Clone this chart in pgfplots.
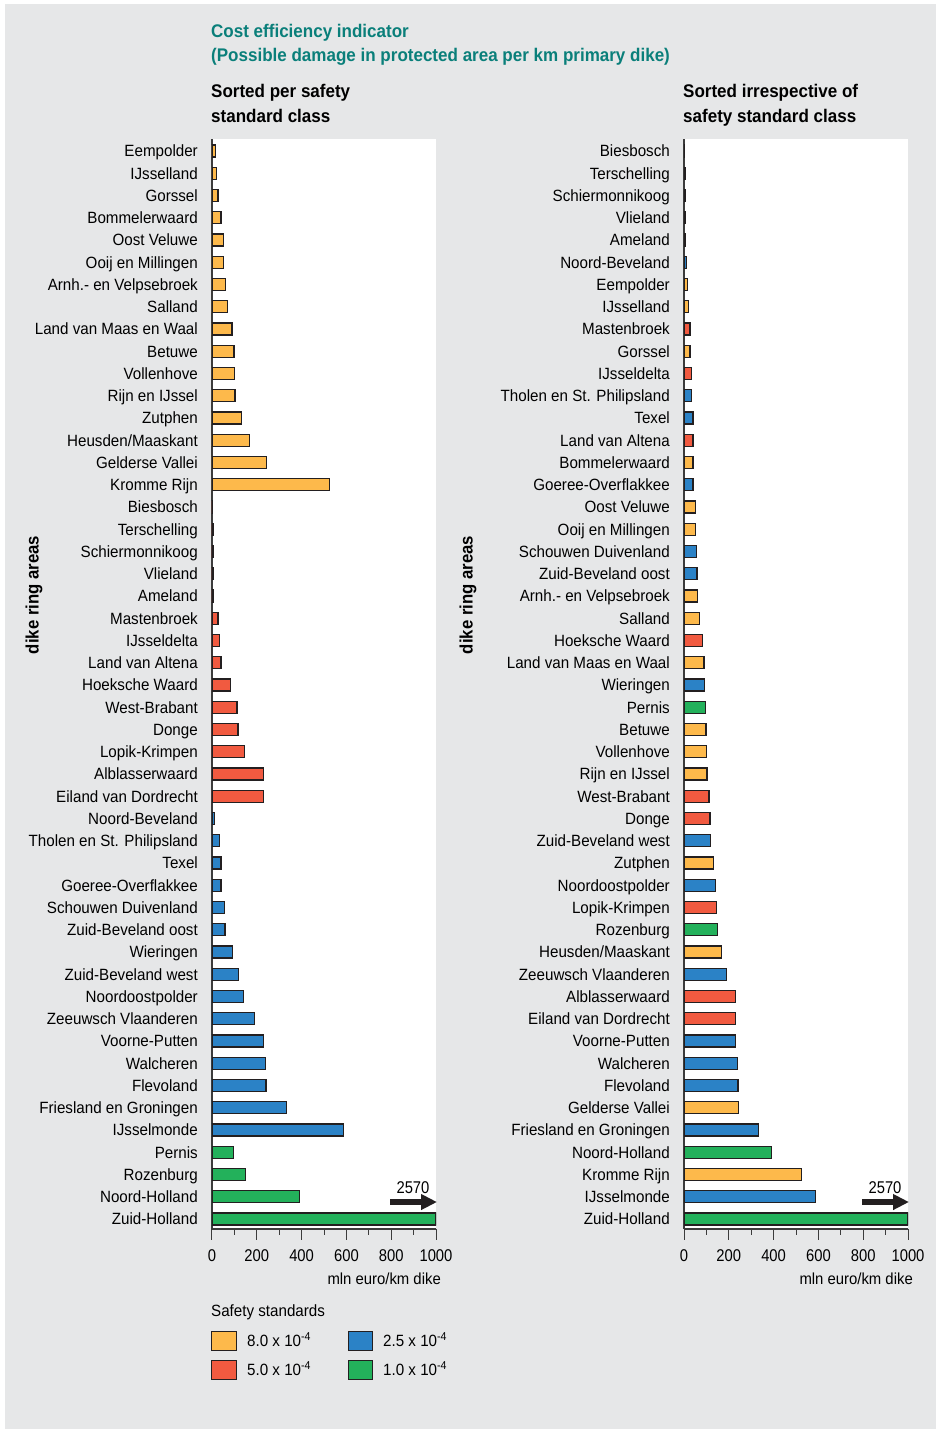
\documentclass[border=0pt]{standalone}
\usepackage{pgfplots}
\pgfplotsset{compat=1.18}
\usetikzlibrary{arrows.meta}
\usepackage{fontspec}
\setmainfont{Liberation Sans}[FakeStretch=0.93]
\newfontfamily\digits{Liberation Sans}[FakeStretch=0.87]

\definecolor{bg}{HTML}{E6E7E8}
\definecolor{cyellow}{HTML}{FDB94B}
\definecolor{cred}{HTML}{F15A40}
\definecolor{cblue}{HTML}{2B82C6}
\definecolor{cgreen}{HTML}{23B15B}
\definecolor{outline}{HTML}{231F20}
\definecolor{axisc}{HTML}{3C3C3C}
\definecolor{teal}{HTML}{0A7F7A}

\pgfplotsset{
  dike/.style={
    scale only axis, width=224pt, height=1090pt,
    xmin=0, xmax=1000, ymin=-0.45, ymax=48.54,
    axis background/.style={fill=white},
    axis x line*=bottom, axis y line*=left,
    axis line style={-, draw=axisc, line width=1.3pt},
    xtick={0,200,...,1000}, minor xtick={100,300,...,900},
    tick align=outside,
    major tick length=11pt, minor tick length=6pt,
    x tick style={draw=axisc, line width=1pt},
    ytick={0,...,48}, y tick style={draw=none},
    yticklabel style={anchor=east, inner sep=0pt, xshift=-3pt,
      text height=11.7pt, text depth=0pt,
      font=\fontsize{16.3}{18}\selectfont},
    /pgf/number format/assume math mode=true,
    /pgf/number format/1000 sep={},
    xticklabel style={anchor=north, inner sep=0pt, yshift=-9pt,
      font=\digits\fontsize{17}{19}\selectfont},
    scaled x ticks=false,
    restrict x to domain*=0:1000,
  },
  cbar/.style={xbar, bar width=12pt, bar shift=0pt, fill=#1,
    draw=outline, line width=1.2pt},
}

\begin{document}
\begin{tikzpicture}
\fill[white] (0pt,0pt) rectangle (939pt,-1433pt);
\fill[bg] (5pt,-4pt) rectangle (936pt,-1429pt);

% titles
\begin{scope}[every node/.style={inner sep=0pt, anchor=west,
    text height=13pt, text depth=0pt, font=\bfseries\fontsize{18.3}{20}\selectfont}]
\node[text=teal] at (211pt,-31pt) {Cost efficiency indicator};
\node[text=teal] at (211pt,-55pt) {(Possible damage in protected area per km primary dike)};
\node at (211pt,-91pt) {Sorted per safety};
\node at (211pt,-116pt) {standard class};
\node at (683pt,-91pt) {Sorted irrespective of};
\node at (683pt,-116pt) {safety standard class};
\end{scope}

% left: sorted per safety standard class
\begin{axis}[dike, at={(212pt,-139pt)}, anchor=north west,
  yticklabels={Zuid-Holland, Noord-Holland, Rozenburg, Pernis, IJsselmonde,
    Friesland en Groningen, Flevoland, Walcheren, Voorne-Putten,
    Zeeuwsch Vlaanderen, Noordoostpolder, Zuid-Beveland west, Wieringen,
    Zuid-Beveland oost, Schouwen Duivenland, Goeree-Overflakkee, Texel,
    Tholen en St. Philipsland, Noord-Beveland, Eiland van Dordrecht,
    Alblasserwaard, Lopik-Krimpen, Donge, West-Brabant, Hoeksche Waard,
    Land van Altena, IJsseldelta, Mastenbroek, Ameland, Vlieland,
    Schiermonnikoog, Terschelling, Biesbosch, Kromme Rijn, Gelderse Vallei,
    Heusden/Maaskant, Zutphen, Rijn en IJssel, Vollenhove, Betuwe,
    Land van Maas en Waal, Salland, Arnh.- en Velpsebroek, Ooij en Millingen,
    Oost Veluwe, Bommelerwaard, Gorssel, IJsselland, Eempolder}]
\addplot[cbar=cyellow] coordinates {(16,48) (21,47) (27,46) (40,45) (50,44)
  (53,43) (61,42) (70,41) (89,40) (98,39) (101,38) (103,37) (133,36) (166,35)
  (245,34) (523,33)};
\addplot[cbar=cred] coordinates {(3,32) (5,31) (6,30) (7,29) (7,28) (27,27)
  (33,26) (40,25) (82,24) (112,23) (116,22) (144,21) (230,20) (230,19)};
\addplot[cbar=cblue] coordinates {(12,18) (34,17) (40,16) (40,15) (55,14)
  (58,13) (92,12) (120,11) (142,10) (190,9) (230,8) (239,7) (241,6) (334,5)
  (588,4)};
\addplot[cbar=cgreen] coordinates {(95,3) (150,2) (390,1) (2570,0)};
\end{axis}

% right: sorted irrespective of safety standard class
\begin{axis}[dike, at={(684pt,-139pt)}, anchor=north west,
  yticklabels={Zuid-Holland, IJsselmonde, Kromme Rijn, Noord-Holland,
    Friesland en Groningen, Gelderse Vallei, Flevoland, Walcheren,
    Voorne-Putten, Eiland van Dordrecht, Alblasserwaard, Zeeuwsch Vlaanderen,
    Heusden/Maaskant, Rozenburg, Lopik-Krimpen, Noordoostpolder, Zutphen,
    Zuid-Beveland west, Donge, West-Brabant, Rijn en IJssel, Vollenhove,
    Betuwe, Pernis, Wieringen, Land van Maas en Waal, Hoeksche Waard, Salland,
    Arnh.- en Velpsebroek, Zuid-Beveland oost, Schouwen Duivenland,
    Ooij en Millingen, Oost Veluwe, Goeree-Overflakkee, Bommelerwaard,
    Land van Altena, Texel, Tholen en St. Philipsland, IJsseldelta, Gorssel,
    Mastenbroek, IJsselland, Eempolder, Noord-Beveland, Ameland, Vlieland,
    Schiermonnikoog, Terschelling, Biesbosch}]
\addplot[cbar=cyellow] coordinates {(16,42) (21,41) (27,39) (40,34) (50,32)
  (53,31) (61,28) (70,27) (89,25) (98,22) (101,21) (103,20) (133,16) (166,12)
  (245,5) (523,2)};
\addplot[cbar=cred] coordinates {(3,48) (5,47) (6,46) (7,45) (7,44) (27,40)
  (33,38) (40,35) (82,26) (112,19) (116,18) (144,14) (230,10) (230,9)};
\addplot[cbar=cblue] coordinates {(12,43) (34,37) (40,36) (40,33) (55,30)
  (58,29) (92,24) (120,17) (142,15) (190,11) (230,8) (239,7) (241,6) (334,4)
  (588,1)};
\addplot[cbar=cgreen] coordinates {(95,23) (150,13) (390,3) (2570,0)};
\end{axis}

% overflow arrows
\foreach \xo in {0,472}{
  \draw[outline, line width=5.5pt, -{Triangle[length=16pt, width=15pt]}]
    (\xo pt+390pt,-1202pt) -- (\xo pt+437pt,-1202pt);
  \node[font=\digits\fontsize{17}{19}\selectfont, inner sep=0pt] at (\xo pt+413pt,-1188pt) {2570};
}

% axis labels
\node[anchor=east, inner sep=0pt, font=\fontsize{16}{18}\selectfont] at (441pt,-1279pt) {mln euro/km dike};
\node[anchor=east, inner sep=0pt, font=\fontsize{16}{18}\selectfont] at (913pt,-1279pt) {mln euro/km dike};
\node[rotate=90, inner sep=0pt, font=\bfseries\fontsize{18}{20}\selectfont] at (34pt,-595pt) {dike ring areas};
\node[rotate=90, inner sep=0pt, font=\bfseries\fontsize{18}{20}\selectfont] at (468pt,-595pt) {dike ring areas};

% legend
\node[anchor=west, inner sep=0pt, font=\fontsize{16.3}{18}\selectfont] at (211pt,-1312pt) {Safety standards};
\begin{scope}[every node/.style={anchor=west, inner sep=0pt, font=\fontsize{16.3}{18}\selectfont}]
\filldraw[fill=cyellow, draw=outline, line width=1pt] (211pt,-1331pt) rectangle (236pt,-1350pt);
\node at (247pt,-1340pt) {8.0 x 10\textsuperscript{-4}};
\filldraw[fill=cred, draw=outline, line width=1pt] (211pt,-1360pt) rectangle (236pt,-1379pt);
\node at (247pt,-1369pt) {5.0 x 10\textsuperscript{-4}};
\filldraw[fill=cblue, draw=outline, line width=1pt] (348pt,-1331pt) rectangle (372pt,-1350pt);
\node at (383pt,-1340pt) {2.5 x 10\textsuperscript{-4}};
\filldraw[fill=cgreen, draw=outline, line width=1pt] (348pt,-1360pt) rectangle (372pt,-1379pt);
\node at (383pt,-1369pt) {1.0 x 10\textsuperscript{-4}};
\end{scope}
\end{tikzpicture}
\end{document}
